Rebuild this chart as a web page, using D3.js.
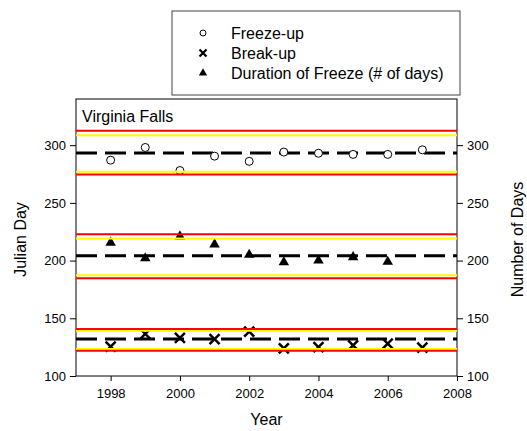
<!DOCTYPE html>
<html>
<head>
<meta charset="utf-8">
<script src="https://cdn.jsdelivr.net/npm/d3@7"></script>
<style>
  body { margin: 0; background: #fff; }
  text { font-family: "Liberation Sans", Arial, sans-serif; fill: #000; }
</style>
</head>
<body>
<div class="canvas"></div>
<script>
// Data
const years = [1998, 1999, 2000, 2001, 2002, 2003, 2004, 2005, 2006, 2007];
const freezeUp = [287, 298, 278, 290.5, 286, 294, 293, 292, 292, 296];
const breakUp = [125.5, 136.5, 133, 132, 138.5, 124, 125, 126.5, 128, 124.5];
const durationYears = [1998, 1999, 2000, 2001, 2002, 2003, 2004, 2005, 2006];
const duration = [215.5, 202, 221, 214, 205, 198.5, 200, 203, 199];

// reference lines: freeze-up, duration, break-up
const meanVals = [293.3, 204.2, 132];
const yellowHi = [308.7, 219.2, 139.2];
const yellowLo = [277, 187.4, 123.4];
const redHi = [312.4, 222.9, 140.7];
const redLo = [274.6, 184.6, 121.9];

const xTicks = [1998, 2000, 2002, 2004, 2006, 2008];
const yTicks = [100, 150, 200, 250, 300];

const legendLabels = ['Freeze-up', 'Break-up', 'Duration of Freeze (# of days)'];

// Setup dimensions
const dims = { width: 527, height: 431 };
const plot = { left: 76, right: 457, top: 99, bottom: 376 };

const svg = d3.select('.canvas')
  .append('svg')
  .attr('width', dims.width)
  .attr('height', dims.height);

const x = d3.scaleLinear().domain([1997, 2008]).range([plot.left, plot.right]);
const y = d3.scaleLinear().domain([100, 340]).range([plot.bottom, plot.top]);

// frame
svg.append('rect')
  .attr('x', plot.left).attr('y', plot.top)
  .attr('width', plot.right - plot.left)
  .attr('height', plot.bottom - plot.top)
  .attr('fill', 'none')
  .attr('stroke', '#000')
  .attr('stroke-width', 1);

// axes
const styleAxis = g => {
  g.select('.domain').remove();
  g.selectAll('line').attr('stroke', '#000');
  g.selectAll('text').style('font-size', '13px');
};

svg.append('g')
  .attr('transform', `translate(0, ${plot.bottom})`)
  .call(d3.axisBottom(x).tickValues(xTicks).tickFormat(d3.format('d')).tickSizeOuter(0).tickSize(5).tickPadding(8))
  .call(styleAxis);

svg.append('g')
  .attr('transform', `translate(${plot.left}, 0)`)
  .call(d3.axisLeft(y).tickValues(yTicks).tickSizeOuter(0).tickSize(6).tickPadding(4))
  .call(styleAxis);

svg.append('g')
  .attr('transform', `translate(${plot.right}, 0)`)
  .call(d3.axisRight(y).tickValues(yTicks).tickSizeOuter(0).tickSize(6).tickPadding(4))
  .call(styleAxis);

// axis titles
svg.append('text')
  .attr('x', (plot.left + plot.right) / 2)
  .attr('y', 425)
  .attr('text-anchor', 'middle')
  .style('font-size', '16px')
  .text('Year');

svg.append('text')
  .attr('transform', `translate(26, ${(plot.top + plot.bottom) / 2 + 2}) rotate(-90)`)
  .attr('text-anchor', 'middle')
  .style('font-size', '16px')
  .text('Julian Day');

svg.append('text')
  .attr('transform', `translate(523, ${(plot.top + plot.bottom) / 2 + 2}) rotate(-90)`)
  .attr('text-anchor', 'middle')
  .style('font-size', '16px')
  .text('Number of Days');

// plot title
svg.append('text')
  .attr('x', 82).attr('y', 122)
  .style('font-size', '16px')
  .text('Virginia Falls');

const graph = svg.append('g');

// mean dashed lines (under markers)
graph.selectAll('line.mean')
  .data(meanVals)
  .enter().append('line')
    .attr('class', 'mean')
    .attr('x1', x(1997)).attr('x2', x(2008))
    .attr('y1', d => y(d)).attr('y2', d => y(d))
    .attr('stroke', '#000')
    .attr('stroke-width', 3)
    .attr('stroke-dasharray', '21,8');

// markers
const triangle = d3.symbol().type(d3.symbolTriangle);
const cross = s => `M${-s},${-s}L${s},${s}M${-s},${s}L${s},${-s}`;

graph.selectAll('circle.freeze')
  .data(years.map((yr, i) => ({ yr, v: freezeUp[i] })))
  .enter().append('circle')
    .attr('class', 'freeze')
    .attr('cx', d => x(d.yr))
    .attr('cy', d => y(d.v))
    .attr('r', 4)
    .attr('fill', '#fff')
    .attr('stroke', '#000')
    .attr('stroke-width', 1);

graph.selectAll('path.break')
  .data(years.map((yr, i) => ({ yr, v: breakUp[i] })))
  .enter().append('path')
    .attr('class', 'break')
    .attr('transform', d => `translate(${x(d.yr)}, ${y(d.v)})`)
    .attr('d', cross(5))
    .attr('stroke', '#000')
    .attr('stroke-width', 2.5)
    .attr('fill', 'none');

graph.selectAll('path.dur')
  .data(durationYears.map((yr, i) => ({ yr, v: duration[i] })))
  .enter().append('path')
    .attr('class', 'dur')
    .attr('transform', d => `translate(${x(d.yr)}, ${y(d.v)})`)
    .attr('d', triangle.size(48)())
    .attr('fill', '#000');

// control limit lines (on top)
const limits = [
  { vals: yellowHi, colour: '#ffff00' },
  { vals: yellowLo, colour: '#ffff00' },
  { vals: redHi, colour: '#ff0000' },
  { vals: redLo, colour: '#ff0000' }
];

limits.forEach(l => {
  graph.selectAll(null)
    .data(l.vals)
    .enter().append('line')
      .attr('x1', x(1997)).attr('x2', x(2008))
      .attr('y1', d => y(d)).attr('y2', d => y(d))
      .attr('stroke', l.colour)
      .attr('stroke-width', 2);
});

// legend
const legendGroup = svg.append('g')
  .attr('transform', 'translate(172, 11)');

legendGroup.append('rect')
  .attr('width', 288)
  .attr('height', 84)
  .attr('fill', '#fff')
  .attr('stroke', '#444')
  .attr('stroke-width', 1);

const rows = legendGroup.selectAll('g.row')
  .data(legendLabels)
  .enter().append('g')
    .attr('class', 'row')
    .attr('transform', (d, i) => `translate(31, ${22 + i * 20})`);

rows.append('text')
  .attr('x', 28)
  .attr('dy', '0.35em')
  .style('font-size', '16px')
  .text(d => d);

rows.filter((d, i) => i === 0).append('circle')
  .attr('r', 3).attr('fill', '#fff').attr('stroke', '#000');
rows.filter((d, i) => i === 1).append('path')
  .attr('d', cross(3.5)).attr('stroke', '#000').attr('stroke-width', 2.2);
rows.filter((d, i) => i === 2).append('path')
  .attr('d', triangle.size(30)()).attr('fill', '#000');
</script>
</body>
</html>
